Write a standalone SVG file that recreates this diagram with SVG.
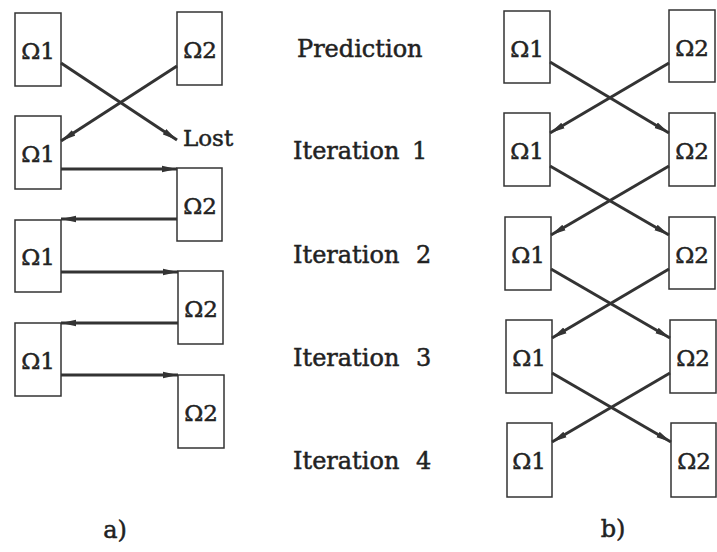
<svg xmlns="http://www.w3.org/2000/svg" width="717" height="552" viewBox="0 0 717 552">
<style>
.box{fill:#fff;stroke:#333;stroke-width:1.5}
.lbl{font-family:"DejaVu Serif","Liberation Serif",serif;font-size:23px;fill:#222;stroke:#222;stroke-width:0.5;text-anchor:middle}
.txt{font-family:"DejaVu Serif","Liberation Serif",serif;font-size:24px;fill:#222;stroke:#222;stroke-width:0.5}
.ar{stroke:#333;stroke-width:3;fill:none;marker-end:url(#ah)}
</style>
<defs>
<marker id="ah" markerUnits="userSpaceOnUse" markerWidth="16" markerHeight="8" refX="15" refY="4" orient="auto">
<path d="M0,0.8 L15,4 L0,7.2 z" fill="#333"/>
</marker>
</defs>
<rect width="717" height="552" fill="#fff"/>
<!-- a) nodes -->
<g id="a1_0"><rect class="box" x="15" y="13" width="46" height="73"/><text class="lbl" x="38" y="59">Ω1</text></g>
<g id="a2_0"><rect class="box" x="177" y="12" width="45" height="73"/><text class="lbl" x="200" y="58">Ω2</text></g>
<g id="a1_1"><rect class="box" x="15" y="116" width="46" height="73"/><text class="lbl" x="38" y="162">Ω1</text></g>
<g id="a2_1"><rect class="box" x="177" y="168" width="45" height="73"/><text class="lbl" x="200" y="214">Ω2</text></g>
<g id="a1_2"><rect class="box" x="15" y="220" width="46" height="72"/><text class="lbl" x="38" y="265">Ω1</text></g>
<g id="a2_2"><rect class="box" x="178" y="271" width="45" height="73"/><text class="lbl" x="201" y="317">Ω2</text></g>
<g id="a1_3"><rect class="box" x="15" y="323" width="46" height="73"/><text class="lbl" x="38" y="369">Ω1</text></g>
<g id="a2_3"><rect class="box" x="178" y="375" width="46" height="73"/><text class="lbl" x="201" y="421">Ω2</text></g>
<g id="lost"><text class="txt" x="183" y="146" style="font-size:23px">Lost</text></g>
<!-- b) nodes -->
<g id="b1_0"><rect class="box" x="504" y="11" width="46" height="72"/><text class="lbl" x="527" y="57">Ω1</text></g>
<g id="b2_0"><rect class="box" x="669" y="10" width="46" height="72"/><text class="lbl" x="692" y="56">Ω2</text></g>
<g id="b1_1"><rect class="box" x="504" y="113" width="46" height="73"/><text class="lbl" x="527" y="159">Ω1</text></g>
<g id="b2_1"><rect class="box" x="669" y="113" width="46" height="73"/><text class="lbl" x="692" y="159">Ω2</text></g>
<g id="b1_2"><rect class="box" x="505" y="217" width="46" height="73"/><text class="lbl" x="528" y="263">Ω1</text></g>
<g id="b2_2"><rect class="box" x="669" y="217" width="46" height="72"/><text class="lbl" x="692" y="263">Ω2</text></g>
<g id="b1_3"><rect class="box" x="506" y="320" width="46" height="73"/><text class="lbl" x="529" y="366">Ω1</text></g>
<g id="b2_3"><rect class="box" x="670" y="320" width="46" height="73"/><text class="lbl" x="693" y="366">Ω2</text></g>
<g id="b1_4"><rect class="box" x="507" y="423" width="45" height="74"/><text class="lbl" x="529" y="469">Ω1</text></g>
<g id="b2_4"><rect class="box" x="671" y="423" width="45" height="74"/><text class="lbl" x="694" y="469">Ω2</text></g>
<!-- middle labels -->
<g id="labels">
<text class="txt" x="297" y="57">Prediction</text>
<text class="txt" x="293" y="159">Iteration<tspan x="412">1</tspan></text>
<text class="txt" x="293" y="263">Iteration<tspan x="416">2</tspan></text>
<text class="txt" x="293" y="366">Iteration<tspan x="416">3</tspan></text>
<text class="txt" x="293" y="469">Iteration<tspan x="416">4</tspan></text>
<text class="txt" x="115" y="538" text-anchor="middle">a)</text>
<text class="txt" x="613" y="537" text-anchor="middle">b)</text>
</g>
<!-- connectors -->
<g id="connectors">
<line class="ar" x1="61" y1="63" x2="177" y2="140"/>
<line class="ar" x1="177" y1="66" x2="61" y2="141"/>
<line class="ar" x1="61" y1="169" x2="177" y2="169"/>
<line class="ar" x1="177" y1="219" x2="61" y2="219"/>
<line class="ar" x1="61" y1="272" x2="178" y2="272"/>
<line class="ar" x1="178" y1="323" x2="61" y2="323"/>
<line class="ar" x1="61" y1="375" x2="178" y2="375"/>
<line class="ar" x1="550" y1="62" x2="669" y2="133"/>
<line class="ar" x1="669" y1="63" x2="550" y2="133"/>
<line class="ar" x1="550" y1="166" x2="669" y2="235"/>
<line class="ar" x1="669" y1="166" x2="551" y2="235"/>
<line class="ar" x1="551" y1="269" x2="670" y2="338"/>
<line class="ar" x1="669" y1="269" x2="552" y2="338"/>
<line class="ar" x1="552" y1="373" x2="671" y2="442"/>
<line class="ar" x1="670" y1="373" x2="552" y2="442"/>
</g>
</svg>
